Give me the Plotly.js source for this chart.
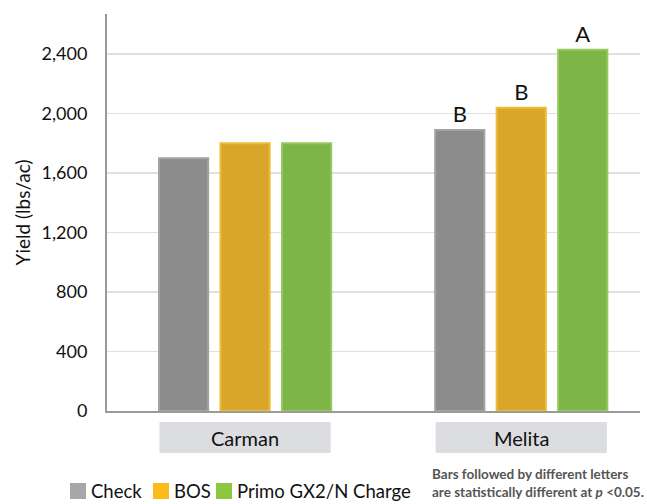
<!DOCTYPE html>
<html><head><meta charset="utf-8">
<script src="https://cdn.plot.ly/plotly-3.0.1.min.js"></script>
<style>body{margin:0;background:#fff}#c{width:647px;height:504px}</style>
</head><body><div id="c"></div>
<script>
const sites = ["Carman", "Melita"];
const seriesNames = ["Check", "BOS", "Primo GX2/N Charge"];
const checkVals = [1700, 1890];
const bosVals = [1800, 2040];
const primoVals = [1800, 2430];
const checkLetters = ["", "B"];
const bosLetters = ["", "B"];
const primoLetters = ["", "A"];
const yTicks = [0, 400, 800, 1200, 1600, 2000, 2400];
const yTickText = ["0", "400", "800", "1,200", "1,600", "2,000", "2,400"];
const footnote = "Bars followed by different letters<br>are statistically different at <i>p</i> <0.05.";

const FONT = "Lato, 'Liberation Sans', sans-serif";
const barColors = ["#8c8c8c", "#d9a62a", "#7db546"];
const edgeColors = ["#a3a3a3", "#efbb3a", "#95c95e"];
const legendColors = ["#a7a7a7", "#fbbc1b", "#8dc73f"];
const xs = [0, 1];
const vals = [checkVals, bosVals, primoVals];
const letters = [checkLetters, bosLetters, primoLetters];

const traces = vals.map((v, i) => ({
  type: "bar", x: xs, y: v, name: seriesNames[i], showlegend: false,
  marker: {color: barColors[i], line: {color: edgeColors[i], width: 2}},
  text: letters[i], textposition: "outside", cliponaxis: false,
  textfont: {family: FONT, size: 22, color: "#111"},
  hoverinfo: "y"
}));

const PW = 533, PH = 397;
const px2x = p => (p - 107) / PW;
const py2y = p => (411 - p) / PH;

const shapes = [];
const annotations = [];
xs.forEach((x, i) => {
  shapes.push({type: "rect", xref: "x", yref: "paper", x0: x - 0.31, x1: x + 0.31,
    y0: py2y(422), y1: py2y(453), fillcolor: "#dcdde0", line: {width: 0}, layer: "below"});
  annotations.push({xref: "x", yref: "paper", x: x, y: py2y(437.5), text: sites[i],
    showarrow: false, font: {family: FONT, size: 20, color: "#111"}, yanchor: "middle"});
});
// legend (manual)
const legX = [70, 153, 216];
seriesNames.forEach((n, i) => {
  shapes.push({type: "rect", xref: "paper", yref: "paper", x0: px2x(legX[i]), x1: px2x(legX[i] + 16),
    y0: py2y(483), y1: py2y(499), fillcolor: legendColors[i], line: {width: 0}});
  annotations.push({xref: "paper", yref: "paper", x: px2x(legX[i] + 19), y: py2y(491),
    xanchor: "left", yanchor: "middle", text: n, showarrow: false,
    font: {family: FONT, size: 18.5, color: "#111"}});
});
annotations.push({xref: "paper", yref: "paper", x: px2x(646), y: py2y(502), xanchor: "right", yanchor: "bottom",
  align: "left", text: "<b>" + footnote + "</b>", showarrow: false,
  font: {family: FONT, size: 13.5, color: "#555"}});

const layout = {
  width: 647, height: 504,
  margin: {l: 107, r: 7, t: 14, b: 93},
  paper_bgcolor: "#fff", plot_bgcolor: "#fff",
  barmode: "group", bargap: 0.332, bargroupgap: 0.2,
  font: {family: FONT, size: 18, color: "#111"},
  xaxis: {range: [-0.5, 1.43], showticklabels: false, ticks: "", showgrid: false,
    zeroline: false, showline: true, linecolor: "#9a9a9a", linewidth: 2, fixedrange: true},
  yaxis: {range: [0, 2670], tickvals: yTicks, ticktext: yTickText, showgrid: true,
    gridcolor: "#e0e0e0", gridwidth: 1.5, zeroline: false, showline: true, linecolor: "#9a9a9a",
    linewidth: 2, ticks: "", ticklabelstandoff: 14, tickfont: {family: FONT, size: 18, color: "#111"},
    title: {text: "Yield (lbs/ac)", font: {family: FONT, size: 19, color: "#111"}, standoff: 6}},
  showlegend: false,
  shapes: shapes, annotations: annotations
};
Plotly.newPlot("c", traces, layout, {displayModeBar: false, staticPlot: true});
</script></body></html>
